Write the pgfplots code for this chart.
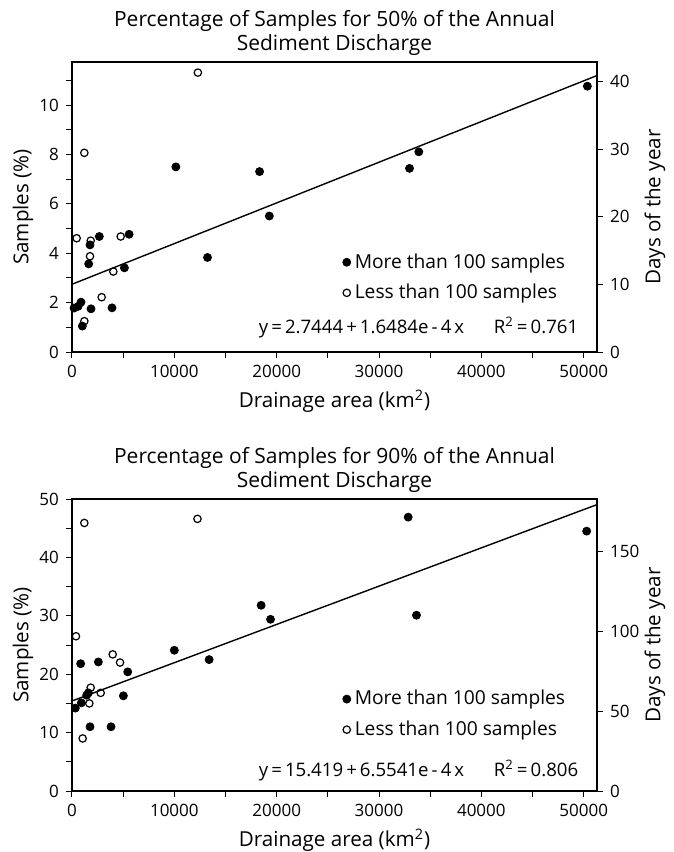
\documentclass[border=0pt]{standalone}
\usepackage{pgfplots}
\pgfplotsset{compat=1.18}
\usepackage{fontspec}
\setmainfont{Open Sans}
\pgfplotsset{
  base/.style={
    scale only axis, width=262.5pt, xmin=0, xmax=51300,
    axis line style={line width=0.6pt},
    tick style={line width=0.5pt, black},
    tick align=outside, major tick length=3pt, minor tick length=3pt,
    /pgf/number format/assume math mode=true,
    ticklabel style={font=\fontsize{8.5}{10}\selectfont},
    label style={font=\fontsize{10.3}{12}\selectfont},
    xtick={0,10000,20000,30000,40000,50000},
    minor xtick={5000,15000,25000,35000,45000},
    scaled x ticks=false,
    xticklabel style={/pgf/number format/.cd, fixed, 1000 sep={}},
    xtick pos=lower, ytick pos=left,
    xlabel={Drainage area (km\textsuperscript{2})},
    ylabel={Samples (\%)},
    xlabel style={at={(axis description cs:0.5,0)}, anchor=center, yshift=-24.5pt},
    ylabel style={at={(axis description cs:-0.0933,0.5)}, anchor=center},
    title style={at={(0.5,1)}, anchor=south, inner sep=0pt, yshift=-2.8pt, align=center, font=\fontsize{10.5}{11.8}\selectfont},
    legend style={draw=none, fill=none, inner sep=0pt, anchor=north west, font=\fontsize{9.6}{11}\selectfont, row sep=2.5pt},
    legend cell align=left,
  },
  right/.style={
    scale only axis, width=262.5pt, xmin=0, xmax=51300,
    axis x line=none, axis y line*=right,
    axis line style={line width=0.6pt},
    tick style={line width=0.5pt, black},
    tick align=outside, major tick length=3pt,
    /pgf/number format/assume math mode=true,
    ticklabel style={font=\fontsize{8.5}{10}\selectfont},
    label style={font=\fontsize{10.3}{12}\selectfont},
    ylabel={Days of the year},
    ylabel style={at={(axis description cs:1.1105,0.5)}, anchor=center},
  },
  filled/.style={only marks, mark=*, mark size=2pt, black},
  hollow/.style={only marks, mark=o, mark size=1.85pt, black, mark options={line width=0.6pt}},
}
\begin{document}
\begin{tikzpicture}
\useasboundingbox (-36pt,-250pt) rectangle (301pt,176pt);
% ---------- top ----------
\begin{axis}[base, at={(0,0)}, anchor=south west, height=145pt,
  ymin=0, ymax=11.75, ytick={0,2,4,6,8,10}, minor ytick={1,3,5,7,9,11},
  title={Percentage of Samples for 50\% of the Annual\\Sediment Discharge},
  legend style={at={(0.515,0.355)}}]
\addplot[black, line width=0.7pt, forget plot] coordinates {(0,2.7444) (51300,11.2007)};
\addplot[filled] coordinates {
(200,1.78) (600,1.85) (880,2.02) (1010,1.05) (1630,3.57) (1760,4.34) (1860,1.75)
(2670,4.68) (3910,1.79) (5120,3.41) (5580,4.77) (10150,7.50) (13240,3.83)
(18330,7.31) (19280,5.51) (32980,7.44) (33890,8.11) (50360,10.77)};
\addlegendentry{More than 100 samples}
\addplot[hollow] coordinates {
(456,4.61) (1206,8.07) (1206,1.25) (1760,3.88) (1830,4.51) (2900,2.22)
(4040,3.26) (4760,4.68) (12300,11.32)};
\addlegendentry{Less than 100 samples}
\node[anchor=east, font=\fontsize{9.3}{11}\selectfont, inner sep=0pt] at (rel axis cs:0.965,0.085)
  {y\,=\,2.7444\,+\,1.6484e\,-\,4\,x\hspace{1.6em}R\textsuperscript{2}\,=\,0.761};
\end{axis}
\begin{axis}[right, at={(0,0)}, anchor=south west, height=145pt,
  ymin=0, ymax=42.8875, ytick={0,10,20,30,40}]
\end{axis}
% ---------- bottom ----------
\begin{axis}[base, at={(0,-219.5pt)}, anchor=south west, height=146pt,
  ymin=0, ymax=50, ytick={0,10,20,30,40,50}, minor ytick={5,15,25,35,45},
  title={Percentage of Samples for 90\% of the Annual\\Sediment Discharge},
  legend style={at={(0.515,0.36)}}]
\addplot[black, line width=0.7pt, forget plot] coordinates {(0,15.419) (51300,49.0415)};
\addplot[filled] coordinates {
(326,14.2) (848,21.8) (913,15.1) (1434,16.4) (1597,16.8) (1760,11.0) (2575,22.1)
(3814,11.0) (5020,16.3) (5444,20.4) (10000,24.1) (13400,22.5) (18480,31.8)
(19400,29.4) (32850,46.9) (33660,30.1) (50290,44.5)};
\addlegendentry{More than 100 samples}
\addplot[hollow] coordinates {
(391,26.5) (1206,45.9) (1043,9.0) (1695,15.0) (1826,17.7) (2804,16.8)
(3977,23.4) (4694,22.0) (12260,46.6)};
\addlegendentry{Less than 100 samples}
\node[anchor=east, font=\fontsize{9.3}{11}\selectfont, inner sep=0pt] at (rel axis cs:0.965,0.07)
  {y\,=\,15.419\,+\,6.5541e\,-\,4\,x\hspace{1.6em}R\textsuperscript{2}\,=\,0.806};
\end{axis}
\begin{axis}[right, at={(0,-219.5pt)}, anchor=south west, height=146pt,
  ymin=0, ymax=182.5, ytick={0,50,100,150}]
\end{axis}
\end{tikzpicture}
\end{document}
